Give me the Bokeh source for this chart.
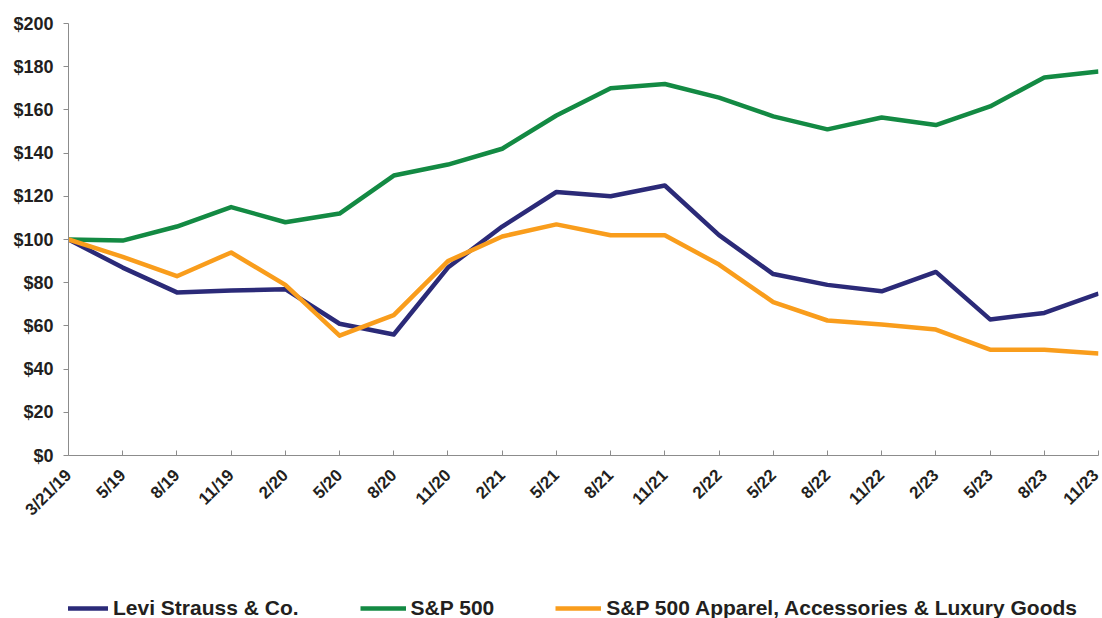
import math
from bokeh.plotting import figure
from bokeh.layouts import column
from bokeh.models import FixedTicker, Legend, LegendItem, Range1d
from bokeh.embed import file_html
from bokeh.resources import INLINE

categories = ["3/21/19", "5/19", "8/19", "11/19", "2/20", "5/20", "8/20", "11/20",
              "2/21", "5/21", "8/21", "11/21", "2/22", "5/22", "8/22", "11/22",
              "2/23", "5/23", "8/23", "11/23"]
levi = [100, 87, 75.5, 76.4, 77, 61, 56, 87, 106, 122, 120, 125, 102, 84, 79, 76,
        85, 63, 66, 75]
sp500 = [100, 99.5, 106, 115, 108, 112, 129.6, 134.7, 142, 157.4, 170, 172, 165.7,
         157, 151, 156.5, 153, 161.6, 175, 177.8]
apparel = [100, 92, 83, 94, 79, 55.5, 65, 90, 101.4, 107, 102, 102, 88.4, 71, 62.5,
           60.6, 58.3, 49, 49, 47.2]
y_ticks = [0, 20, 40, 60, 80, 100, 120, 140, 160, 180, 200]
series_names = ["Levi Strauss & Co.", "S&P 500", "S&P 500 Apparel, Accessories & Luxury Goods"]
series_colors = ["#2B2A78", "#138A43", "#F99D1C"]

FONT = "Liberation Sans"
TXT = "#231F20"

xs = list(range(len(categories)))

p = figure(width=1102, height=530, output_backend="svg", toolbar_location=None,
           x_range=Range1d(0, len(categories) - 1), y_range=Range1d(0, 200),
           min_border_left=68, min_border_top=23, min_border_right=4,
           min_border_bottom=75)
p.outline_line_color = None
p.grid.visible = False

for vals, col in zip([levi, sp500, apparel], series_colors):
    p.line(xs, vals, line_color=col, line_width=4.5, line_join="round")

ax = p.xaxis[0]
ax.ticker = FixedTicker(ticks=xs)
ax.major_label_overrides = {i: c for i, c in enumerate(categories)}
ax.major_label_orientation = math.pi / 4
ax.major_tick_in = 5
ax.major_tick_out = 0
ax.minor_tick_line_color = None
ax.axis_line_color = "#8C8C8C"
ax.major_tick_line_color = "#8C8C8C"
ax.major_label_text_font = FONT
ax.major_label_text_font_style = "bold"
ax.major_label_text_font_size = "17px"
ax.major_label_text_color = TXT
ax.major_label_standoff = 17

ay = p.yaxis[0]
ay.ticker = FixedTicker(ticks=y_ticks)
ay.major_label_overrides = {v: f"${v}" for v in y_ticks}
ay.major_tick_in = 0
ay.major_tick_out = 5
ay.minor_tick_line_color = None
ay.axis_line_color = "#8C8C8C"
ay.major_tick_line_color = "#8C8C8C"
ay.major_label_text_font = FONT
ay.major_label_text_font_style = "bold"
ay.major_label_text_font_size = "18px"
ay.major_label_text_color = TXT
ay.major_label_standoff = 10

# legend strip below the chart
lp = figure(width=1102, height=88, output_backend="svg", toolbar_location=None,
            x_range=Range1d(0, 1), y_range=Range1d(0, 1),
            x_axis_location=None, y_axis_location=None,
            min_border_left=0, min_border_right=0, min_border_top=0, min_border_bottom=0)
lp.outline_line_color = None
lp.grid.visible = False
leg_renderers = []
for vals, col in zip([levi, sp500, apparel], series_colors):
    r = lp.line(xs, vals, line_color=col, line_width=4.5, visible=False)
    leg_renderers.append(r)

legend = Legend(items=[LegendItem(label=n, renderers=[r]) for n, r in zip(series_names, leg_renderers)],
                orientation="horizontal", location=(-6, -2),
                glyph_width=46, glyph_height=20, label_standoff=5, spacing=61,
                padding=0, margin=0, border_line_color=None, background_fill_alpha=0,
                inactive_fill_alpha=0,
                label_text_font=FONT, label_text_font_style="bold",
                label_text_font_size="21px", label_text_color=TXT)
lp.add_layout(legend)

layout = column(p, lp, spacing=0)
open("out.html", "w").write(file_html(layout, INLINE))
